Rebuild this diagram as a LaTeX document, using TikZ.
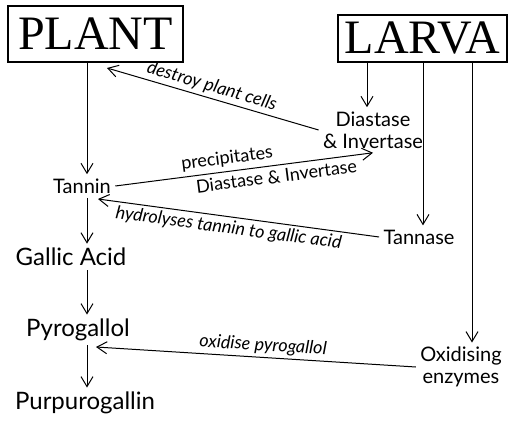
\documentclass[tikz,border=0pt]{standalone}
\usepackage{fontspec}
\usetikzlibrary{arrows.meta}
\setmainfont{Lato}
\newfontfamily\titlefont{Liberation Serif}
\tikzset{
        title_box/.style={draw=black, line width=0.6pt, inner sep=0pt,
                          font=\titlefont\fontsize{24}{24}\selectfont},
        chem_big/.style={font=\fontsize{12}{13}\selectfont, inner sep=2pt},
        chem_small/.style={font=\fontsize{10}{11}\selectfont, inner sep=2pt, align=center},
        link_text/.style={font=\itshape\fontsize{9}{10}\selectfont, inner sep=1.5pt},
        link_plain/.style={font=\fontsize{9}{10}\selectfont, inner sep=0.5pt},
        flow_arrow/.style={-{Straight Barb[length=5pt,width=6pt]}, line width=0.5pt}
    }

\begin{document}
\begin{tikzpicture}[x=0.5pt, y=-0.5pt]
    \useasboundingbox (0,0) rectangle (509,423);
    \node[title_box, minimum width=87.5pt, minimum height=28pt] (plant) at (95.5,34) {PLANT};
    \node[title_box, minimum width=84.5pt, minimum height=23.5pt] (larva) at (422.5,38.5) {LARVA};
    \coordinate (stem) at (87,0);
    \coordinate (col_a) at (367,0);
    \coordinate (col_b) at (423,0);
    \coordinate (col_c) at (472,0);
    \begin{scope}
        \node[chem_small] (tannin) at (82,186) {Tannin};
        \node[chem_big] (gallic) at (71,257) {Gallic Acid};
        \node[chem_big] (pyro) at (78,330) {Pyrogallol};
        \node[chem_big] (purpuro) at (85,403) {Purpurogallin};
        \draw[flow_arrow] (plant.south -| stem) -- (tannin.north -| stem);
        \draw[flow_arrow] (tannin.south -| stem) -- (gallic.north -| stem);
        \draw[flow_arrow] (gallic.south -| stem) -- (pyro.north -| stem);
        \draw[flow_arrow] (pyro.south -| stem) -- (purpuro.north -| stem);
    \end{scope}
    \begin{scope}
        \node[chem_small] (diastase) at (373,130) {Diastase\\\& Invertase};
        \node[chem_small] (tannase) at (419,237) {Tannase};
        \node[chem_small] (oxid) at (461,367) {Oxidising\\enzymes};
        \draw[flow_arrow] (larva.south -| col_a) -- (diastase.north -| col_a);
        \draw[flow_arrow] (larva.south -| col_b) -- (tannase.north -| col_b);
        \draw[flow_arrow] (larva.south -| col_c) -- (oxid.north -| col_c);
    \end{scope}
    \coordinate (plant_hit) at (107,68);
    \coordinate (tannin_in) at (98,199);
    \coordinate (pyro_in) at (96,347);
    \draw[flow_arrow] (diastase.west) -- (plant_hit)
        node[link_text, sloped, above, pos=0.52] {destroy plant cells};
    \draw[flow_arrow] (tannin.east) -- (diastase.south)
        node[link_plain, sloped, above=1.5pt, pos=0.44] {precipitates}
        node[link_plain, sloped, below=1.5pt, pos=0.62] {Diastase \& Invertase};
    \draw[flow_arrow] (tannase.west) -- (tannin_in)
        node[link_text, sloped, below, pos=0.53] {hydrolyses tannin to gallic acid};
    \draw[flow_arrow] (oxid.west) -- (pyro_in)
        node[link_text, sloped, above, pos=0.48] {oxidise pyrogallol};
\end{tikzpicture}
\end{document}
